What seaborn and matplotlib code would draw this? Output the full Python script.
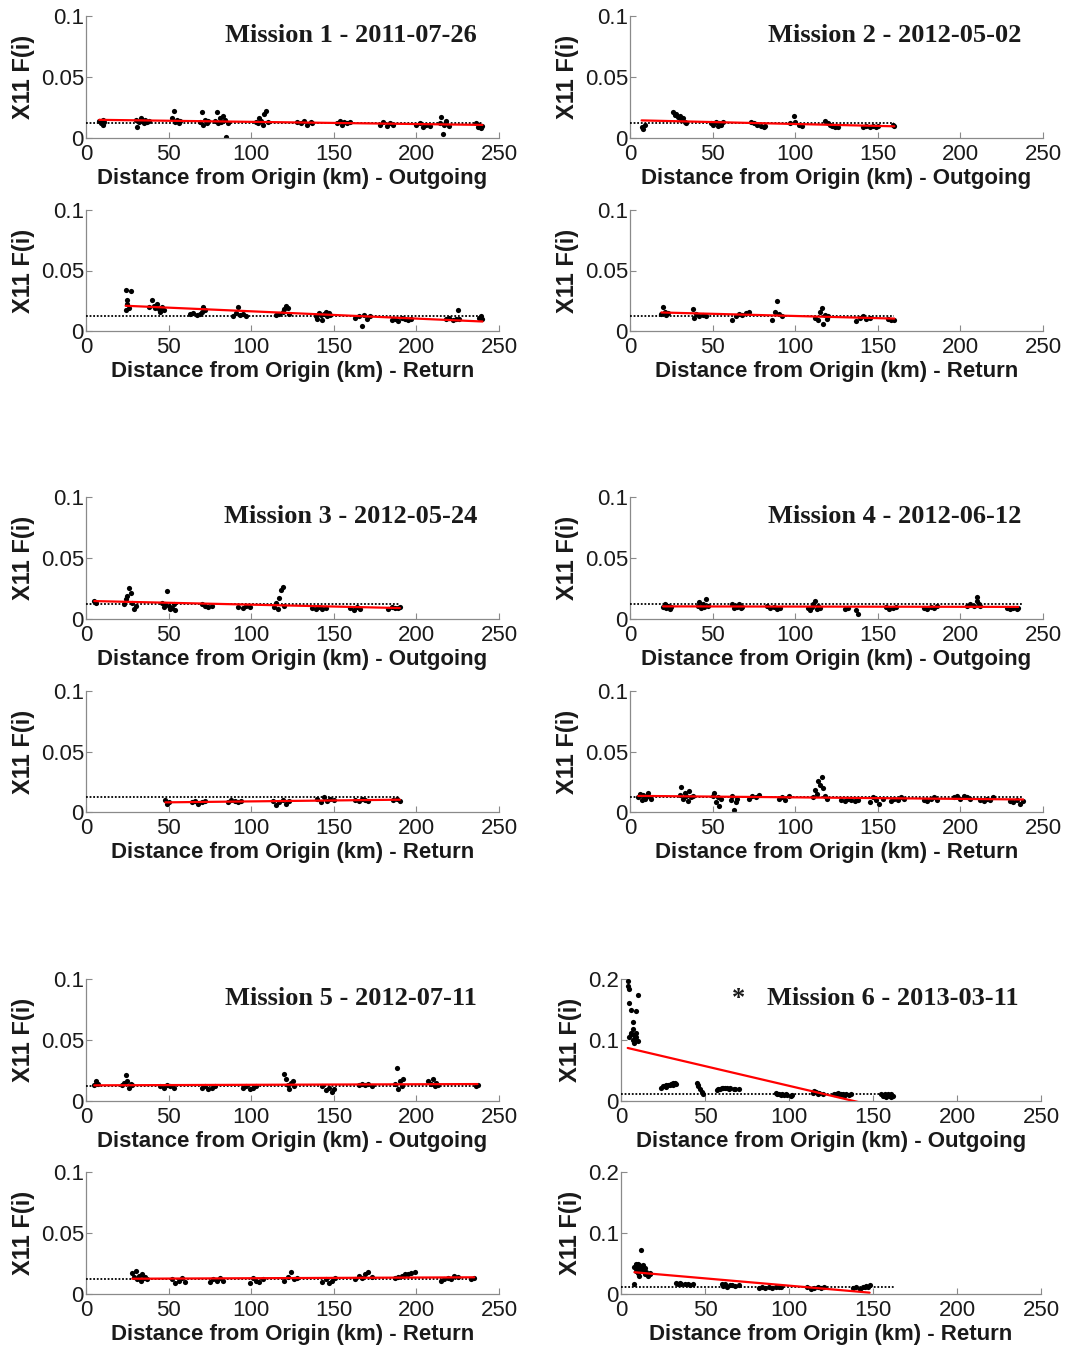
import numpy as np
import pandas as pd
import matplotlib
matplotlib.use("Agg")
import matplotlib.pyplot as plt
import seaborn as sns

sns.set_style("ticks")
plt.rcParams['font.family'] = ['Liberation Sans', 'DejaVu Sans']

# ---------------- data ----------------
m1_out_x = [8, 9, 10, 10, 11, 30, 31, 32, 33, 34, 35, 36, 37, 38, 52, 53, 54, 55, 56, 57,
            69, 70, 71, 72, 73, 74, 78, 79, 80, 81, 82, 83, 84, 85, 86,
            103, 104, 105, 106, 107, 108, 109, 110, 128, 130, 132, 134, 136, 137,
            152, 154, 155, 156, 158, 160, 178, 180, 182, 184, 186, 200, 202, 204, 206, 208,
            214, 215, 216, 217, 218, 220, 236, 237, 238, 239, 240]
m1_out_y = [0.014, 0.012, 0.015, 0.011, 0.013, 0.015, 0.009, 0.013, 0.016, 0.014, 0.012, 0.015, 0.013, 0.014,
            0.016, 0.022, 0.013, 0.015, 0.012, 0.014, 0.013, 0.021, 0.011, 0.015, 0.012, 0.014,
            0.014, 0.021, 0.012, 0.016, 0.013, 0.018, 0.015, 0.001, 0.012,
            0.013, 0.012, 0.016, 0.014, 0.011, 0.020, 0.022, 0.013, 0.013, 0.012, 0.014, 0.011, 0.013, 0.012,
            0.012, 0.014, 0.011, 0.013, 0.012, 0.013, 0.011, 0.013, 0.010, 0.012, 0.011,
            0.011, 0.012, 0.009, 0.011, 0.010, 0.012, 0.017, 0.003, 0.011, 0.014, 0.010,
            0.012, 0.009, 0.011, 0.008, 0.010]

m1_ret_x = [24, 24, 25, 25, 26, 27, 38, 40, 41, 42, 43, 44, 45, 46, 47, 63, 65, 67, 69, 70, 71, 72,
            89, 91, 92, 93, 95, 97, 115, 117, 119, 120, 121, 122, 123,
            139, 140, 141, 142, 143, 144, 145, 146, 147, 148, 163, 165, 167, 168, 170, 172,
            185, 187, 189, 191, 193, 195, 197, 218, 220, 222, 224, 225, 226, 238, 239, 240]
m1_ret_y = [0.034, 0.017, 0.022, 0.026, 0.019, 0.033, 0.020, 0.026, 0.021, 0.019, 0.022, 0.018, 0.016, 0.020, 0.017,
            0.014, 0.015, 0.013, 0.014, 0.016, 0.020, 0.017, 0.012, 0.015, 0.020, 0.013, 0.014, 0.012,
            0.013, 0.014, 0.016, 0.018, 0.021, 0.019, 0.014,
            0.012, 0.010, 0.015, 0.013, 0.009, 0.014, 0.016, 0.012, 0.015, 0.013,
            0.011, 0.012, 0.004, 0.013, 0.010, 0.012, 0.009, 0.010, 0.008, 0.011, 0.010, 0.009, 0.010,
            0.010, 0.011, 0.009, 0.010, 0.017, 0.010, 0.011, 0.012, 0.010]

m2_out_x = [7, 8, 9, 26, 27, 28, 29, 30, 31, 32, 33, 34, 49, 50, 52, 53, 54, 55, 56,
            73, 75, 77, 79, 81, 82, 97, 99, 100, 102, 104, 118, 120, 121, 122, 124, 126,
            141, 143, 145, 147, 149, 150, 159, 160]
m2_out_y = [0.009, 0.007, 0.011, 0.021, 0.019, 0.020, 0.017, 0.018, 0.015, 0.016, 0.013, 0.012,
            0.012, 0.011, 0.013, 0.010, 0.012, 0.011, 0.013, 0.013, 0.012, 0.011, 0.010, 0.009, 0.010,
            0.012, 0.018, 0.013, 0.011, 0.010, 0.014, 0.012, 0.011, 0.010, 0.009, 0.009,
            0.009, 0.010, 0.009, 0.010, 0.009, 0.010, 0.011, 0.010]

m2_ret_x = [19, 20, 21, 22, 23, 38, 39, 40, 42, 44, 46, 62, 64, 66, 68, 70, 72, 86, 88, 89, 90, 92,
            112, 114, 115, 116, 117, 118, 119, 120, 137, 139, 141, 143, 145, 156, 158, 160]
m2_ret_y = [0.014, 0.020, 0.016, 0.013, 0.015, 0.018, 0.011, 0.014, 0.012, 0.013, 0.012,
            0.009, 0.012, 0.014, 0.013, 0.015, 0.016, 0.009, 0.016, 0.025, 0.014, 0.012,
            0.011, 0.009, 0.016, 0.019, 0.006, 0.013, 0.010, 0.012, 0.008, 0.011, 0.012, 0.010, 0.011,
            0.010, 0.009, 0.009]

m3_out_x = [5, 6, 23, 24, 25, 26, 27, 28, 29, 30, 46, 47, 48, 49, 50, 51, 52, 53, 54, 70, 72, 74, 76,
            92, 95, 97, 99, 114, 115, 116, 117, 118, 119, 120, 137, 139, 141, 143, 145,
            160, 162, 164, 166, 183, 185, 187, 189, 190]
m3_out_y = [0.015, 0.013, 0.012, 0.016, 0.019, 0.025, 0.021, 0.013, 0.008, 0.011,
            0.013, 0.010, 0.012, 0.023, 0.011, 0.008, 0.009, 0.012, 0.007, 0.012, 0.011, 0.010, 0.011,
            0.010, 0.009, 0.011, 0.010, 0.010, 0.013, 0.008, 0.017, 0.024, 0.026, 0.011,
            0.009, 0.008, 0.010, 0.008, 0.009, 0.009, 0.007, 0.010, 0.008, 0.008, 0.010, 0.009, 0.009, 0.010]

m3_ret_x = [48, 49, 50, 64, 66, 68, 70, 72, 86, 88, 90, 92, 94, 113, 115, 117, 119, 121, 123,
            140, 142, 144, 146, 148, 150, 163, 165, 167, 169, 171, 186, 188, 190]
m3_ret_y = [0.010, 0.007, 0.008, 0.008, 0.009, 0.007, 0.008, 0.009, 0.008, 0.010, 0.009, 0.008, 0.009,
            0.009, 0.006, 0.008, 0.010, 0.007, 0.009, 0.011, 0.008, 0.012, 0.009, 0.011, 0.010,
            0.010, 0.009, 0.011, 0.010, 0.009, 0.010, 0.011, 0.009]

m4_out_x = [20, 21, 22, 23, 24, 25, 41, 42, 43, 44, 45, 46, 47, 62, 63, 64, 65, 66, 67, 68,
            83, 85, 87, 89, 91, 108, 109, 110, 111, 112, 113, 114, 115, 130, 132, 137, 138,
            155, 157, 159, 161, 178, 180, 182, 184, 186, 204, 206, 208, 210, 210, 211, 212,
            228, 230, 232, 234, 235]
m4_out_y = [0.010, 0.012, 0.009, 0.011, 0.008, 0.010, 0.011, 0.014, 0.009, 0.012, 0.010, 0.016, 0.011,
            0.012, 0.009, 0.011, 0.010, 0.012, 0.009, 0.010, 0.011, 0.009, 0.010, 0.008, 0.009,
            0.009, 0.007, 0.010, 0.012, 0.015, 0.008, 0.011, 0.009, 0.008, 0.009, 0.007, 0.004,
            0.010, 0.008, 0.009, 0.010, 0.009, 0.008, 0.010, 0.009, 0.011,
            0.011, 0.012, 0.011, 0.018, 0.015, 0.012, 0.011, 0.009, 0.008, 0.009, 0.008, 0.009]

m4_ret_x = [5, 6, 7, 8, 9, 10, 11, 12, 13, 30, 31, 32, 33, 34, 35, 36, 37, 38, 50, 51, 52, 53, 54, 55,
            61, 62, 63, 64, 65, 72, 74, 76, 78, 90, 92, 94, 96,
            111, 112, 113, 114, 115, 116, 117, 118, 119, 128, 130, 132, 134, 136, 138,
            145, 147, 149, 151, 153, 158, 160, 162, 164, 166, 178, 180, 182, 184, 186,
            196, 198, 200, 202, 204, 206, 212, 214, 216, 218, 220, 230, 232, 234, 236, 238]
m4_ret_y = [0.012, 0.015, 0.010, 0.014, 0.011, 0.013, 0.016, 0.012, 0.011,
            0.014, 0.021, 0.011, 0.016, 0.013, 0.009, 0.017, 0.012, 0.013,
            0.013, 0.016, 0.008, 0.012, 0.005, 0.011, 0.010, 0.013, 0.002, 0.008, 0.011,
            0.011, 0.013, 0.012, 0.014, 0.011, 0.012, 0.010, 0.013,
            0.012, 0.018, 0.015, 0.026, 0.022, 0.029, 0.020, 0.013, 0.011,
            0.010, 0.009, 0.011, 0.010, 0.009, 0.010, 0.008, 0.012, 0.010, 0.007, 0.011,
            0.009, 0.011, 0.010, 0.012, 0.011, 0.010, 0.009, 0.011, 0.012, 0.010,
            0.012, 0.013, 0.011, 0.013, 0.012, 0.011, 0.010, 0.009, 0.011, 0.010, 0.012,
            0.009, 0.008, 0.010, 0.007, 0.009]

m5_out_x = [5, 6, 7, 22, 23, 24, 25, 26, 27, 28, 45, 47, 49, 51, 53, 70, 72, 74, 76, 78,
            95, 97, 99, 101, 103, 120, 121, 122, 123, 124, 125, 126, 143, 145, 147, 149, 150,
            165, 167, 169, 171, 173, 187, 188, 189, 190, 191, 192, 207, 209, 210, 211, 212, 213, 236, 237]
m5_out_y = [0.013, 0.016, 0.014, 0.013, 0.015, 0.021, 0.016, 0.011, 0.014, 0.013,
            0.012, 0.011, 0.013, 0.012, 0.011, 0.011, 0.012, 0.010, 0.011, 0.012,
            0.011, 0.012, 0.010, 0.011, 0.012, 0.022, 0.018, 0.013, 0.010, 0.015, 0.016, 0.012,
            0.012, 0.009, 0.011, 0.007, 0.010, 0.013, 0.014, 0.013, 0.014, 0.012,
            0.014, 0.027, 0.010, 0.016, 0.012, 0.018, 0.016, 0.014, 0.018, 0.012, 0.015, 0.013,
            0.012, 0.013]

m5_ret_x = [28, 29, 30, 31, 32, 33, 34, 35, 36, 37, 52, 54, 56, 58, 60, 75, 77, 79, 81, 83,
            99, 101, 103, 105, 107, 120, 122, 124, 126, 128, 143, 145, 147, 149, 151,
            163, 165, 167, 169, 171, 173, 187, 189, 191, 193, 195, 197, 199,
            215, 217, 219, 221, 223, 225, 233, 235]
m5_ret_y = [0.017, 0.014, 0.019, 0.012, 0.015, 0.011, 0.016, 0.013, 0.014, 0.012,
            0.012, 0.009, 0.011, 0.013, 0.010, 0.010, 0.012, 0.011, 0.013, 0.011,
            0.009, 0.013, 0.011, 0.010, 0.012, 0.011, 0.014, 0.018, 0.012, 0.013,
            0.010, 0.012, 0.009, 0.011, 0.013, 0.012, 0.015, 0.013, 0.016, 0.018, 0.014,
            0.013, 0.014, 0.015, 0.016, 0.016, 0.017, 0.018,
            0.011, 0.012, 0.013, 0.012, 0.015, 0.014, 0.012, 0.013]

m6_out_x = [4, 4, 5, 5, 5, 6, 6, 6, 7, 7, 7, 8, 8, 8, 8, 9, 9, 9, 10, 10,
            24, 25, 26, 27, 27, 28, 29, 30, 31, 31, 32, 33, 45, 46, 46, 47, 48, 49,
            57, 58, 59, 60, 61, 62, 63, 64, 65, 67, 68, 70,
            92, 93, 94, 95, 96, 97, 98, 99, 101, 102, 114, 115, 116, 117, 118, 120,
            127, 128, 129, 130, 131, 132, 133, 134, 136, 137,
            155, 156, 156, 157, 157, 158, 158, 159, 159, 160, 160, 161, 161, 162]
m6_out_y = [0.197, 0.188, 0.183, 0.160, 0.105, 0.150, 0.110, 0.112, 0.130, 0.100, 0.118,
            0.100, 0.108, 0.108, 0.095, 0.148, 0.105, 0.112, 0.174, 0.098,
            0.022, 0.024, 0.025, 0.023, 0.026, 0.027, 0.026, 0.028, 0.029, 0.027, 0.030, 0.028,
            0.029, 0.027, 0.024, 0.020, 0.015, 0.011,
            0.018, 0.020, 0.019, 0.021, 0.022, 0.021, 0.022, 0.020, 0.021, 0.020, 0.019, 0.020,
            0.013, 0.011, 0.012, 0.010, 0.011, 0.010, 0.012, 0.010, 0.009, 0.010,
            0.013, 0.016, 0.014, 0.012, 0.013, 0.011,
            0.012, 0.011, 0.013, 0.010, 0.012, 0.011, 0.009, 0.012, 0.010, 0.011,
            0.011, 0.008, 0.010, 0.012, 0.009, 0.009, 0.006, 0.010, 0.011, 0.008, 0.009,
            0.011, 0.007, 0.009]

m6_ret_x = [8, 8, 9, 9, 9, 10, 10, 10, 11, 11, 11, 12, 12, 12, 13, 13, 14, 14, 15, 16, 17, 17,
            33, 34, 35, 36, 38, 40, 41, 43, 60, 61, 62, 63, 65, 66, 68, 70,
            82, 84, 86, 88, 90, 92, 94, 95, 111, 113, 115, 117, 119, 121,
            138, 140, 142, 144, 145, 146, 147, 148]
m6_ret_y = [0.045, 0.016, 0.048, 0.038, 0.050, 0.042, 0.050, 0.035, 0.048, 0.030, 0.046,
            0.072, 0.040, 0.045, 0.038, 0.048, 0.033, 0.042, 0.036, 0.030, 0.034, 0.032,
            0.018, 0.017, 0.018, 0.016, 0.017, 0.016, 0.015, 0.016,
            0.016, 0.013, 0.017, 0.012, 0.014, 0.015, 0.013, 0.014,
            0.010, 0.011, 0.010, 0.011, 0.010, 0.012, 0.011, 0.012,
            0.011, 0.009, 0.010, 0.012, 0.010, 0.011,
            0.010, 0.011, 0.009, 0.012, 0.011, 0.013, 0.012, 0.014]

titles = ["Mission 1 - 2011-07-26", "Mission 2 - 2012-05-02", "Mission 3 - 2012-05-24",
          "Mission 4 - 2012-06-12", "Mission 5 - 2012-07-11", "Mission 6 - 2013-03-11"]
ref_level = 0.012
ref_end_out = [240, 160, 190, 238, 237, 162]
ref_end_ret = [240, 160, 190, 238, 235, 163]
x_ticks = [0, 50, 100, 150, 200, 250]
y_ticks_a = [0, 0.05, 0.1]
y_labels_a = ["0", "0.05", "0.1"]
y_ticks_b = [0, 0.1, 0.2]
y_labels_b = ["0", "0.1", "0.2"]
xlabel_out = "Distance from Origin (km) - Outgoing"
xlabel_ret = "Distance from Origin (km) - Return"
ylabel = "X11 F(i)"

outs = [(m1_out_x, m1_out_y), (m2_out_x, m2_out_y), (m3_out_x, m3_out_y),
        (m4_out_x, m4_out_y), (m5_out_x, m5_out_y), (m6_out_x, m6_out_y)]
rets = [(m1_ret_x, m1_ret_y), (m2_ret_x, m2_ret_y), (m3_ret_x, m3_ret_y),
        (m4_ret_x, m4_ret_y), (m5_ret_x, m5_ret_y), (m6_ret_x, m6_ret_y)]

# ---------------- layout ----------------
W, H = 1068, 1348
fig = plt.figure(figsize=(W / 100, H / 100), dpi=100)
fig.patch.set_facecolor("white")

rows_out = [(16, 138), (497, 619), (979, 1101)]
rows_ret = [(210, 331), (691, 812), (1172, 1294)]
cols = [(86, 499), (630, 1043)]
col6 = (621, 1041)

AX_COL = "#8a8a8a"
TXT_COL = "#1a1a1a"


def make_ax(l, r, t, b):
    return fig.add_axes([l / W, 1 - b / H, (r - l) / W, (b - t) / H])


def style(ax, big, xlabel):
    ax.set_xlim(0, 250)
    ax.set_xticks(x_ticks)
    ax.set_xticklabels([str(v) for v in x_ticks])
    if big:
        ax.set_ylim(0, 0.2)
        ax.set_yticks(y_ticks_b)
        ax.set_yticklabels(y_labels_b)
    else:
        ax.set_ylim(0, 0.1)
        ax.set_yticks(y_ticks_a)
        ax.set_yticklabels(y_labels_a)
    for s in ["top", "right"]:
        ax.spines[s].set_visible(False)
    for s in ["left", "bottom"]:
        ax.spines[s].set_color(AX_COL)
        ax.spines[s].set_linewidth(0.9)
    ax.tick_params(axis="both", direction="in", length=4, width=0.8, color=AX_COL,
                   labelsize=16, labelcolor=TXT_COL)
    ax.tick_params(axis="x", pad=4.5)
    ax.tick_params(axis="y", pad=1.5)
    ax.set_xlabel(xlabel, fontsize=16, fontweight="bold", color=TXT_COL, labelpad=2)
    ax.set_ylabel(ylabel, fontsize=17, fontweight="bold", color=TXT_COL, labelpad=4)
    ax.set_facecolor("white")


def draw(ax, xs, ys, ref_end):
    df = pd.DataFrame({"x": xs, "y": ys})
    sns.regplot(data=df, x="x", y="y", ax=ax, ci=None, truncate=True,
                scatter_kws=dict(s=14, color="black", alpha=1, linewidths=0, zorder=2),
                line_kws=dict(color="red", lw=1.6, zorder=4))
    ax.hlines(ref_level, 0, ref_end, colors="black", linestyles=(0, (1, 1)), lw=1.3, zorder=3)


for i in range(6):
    r = i // 2
    c = i % 2
    big = (i == 5)
    lr = col6 if big else cols[c]
    ax_o = make_ax(lr[0], lr[1], rows_out[r][0], rows_out[r][1])
    draw(ax_o, outs[i][0], outs[i][1], ref_end_out[i])
    style(ax_o, big, xlabel_out)
    ax_o.text(0.947, 0.79, titles[i], transform=ax_o.transAxes, ha="right", va="baseline",
              fontsize=19, fontweight="bold", color=TXT_COL,
              family=["Liberation Serif", "DejaVu Serif"])
    if big:
        ax_o.text(0.281, 0.79, "*", transform=ax_o.transAxes, ha="center", va="baseline",
                  fontsize=19, fontweight="bold", color=TXT_COL,
                  family=["Liberation Serif", "DejaVu Serif"])
    ax_r = make_ax(lr[0], lr[1], rows_ret[r][0], rows_ret[r][1])
    draw(ax_r, rets[i][0], rets[i][1], ref_end_ret[i])
    style(ax_r, big, xlabel_ret)

fig.savefig("out.png", dpi=100, facecolor="white")
